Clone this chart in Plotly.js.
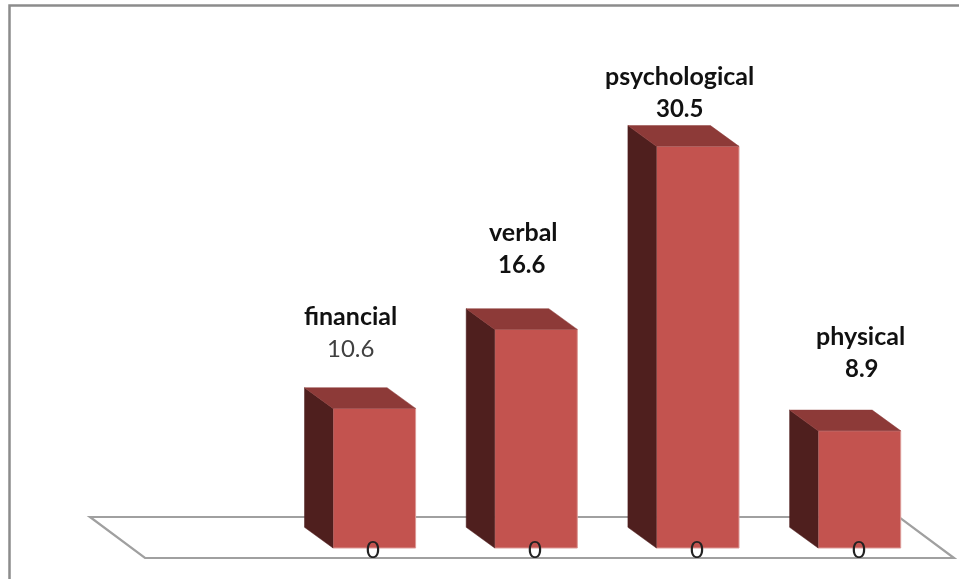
<!DOCTYPE html>
<html>
<head>
<meta charset="utf-8">
<script src="https://cdn.plot.ly/plotly-3.0.1.min.js"></script>
<style>html,body{margin:0;padding:0;background:#fff;overflow:hidden}#chart{width:959px;height:579px;filter:blur(0.45px)}text{font-variant-ligatures:none}</style>
</head>
<body>
<div id="chart"></div>
<script>
var categories = ["financial", "verbal", "psychological", "physical"];
var values = [10.6, 16.6, 30.5, 8.9];
var axisLabels = ["0", "0", "0", "0"];

// geometry of the chart frame (pixels of the 959x579 page)
var W = 959, H = 579;
var firstCenterPx = 374.3, stepPx = 161.7, baselinePx = 548, pxPerUnit = 13.17;
var barWidthPx = 82.6, depthXPx = 28.5, depthYPx = 20.7;

var xUnit = function (px) { return (px - firstCenterPx) / stepPx; };
var yUnit = function (py) { return (baselinePx - py) / pxPerUnit; };
var barW = barWidthPx / stepPx, dX = depthXPx / stepPx, dY = depthYPx / pxPerUnit;
var idx = categories.map(function (_, i) { return i; });

var sideX = [], sideY = [], topX = [], topY = [];
idx.forEach(function (i) {
  var l = i - barW / 2, r = i + barW / 2, v = values[i];
  sideX.push(l, l - dX, l - dX, l, l, null);
  sideY.push(0, dY, v + dY, v, 0, null);
  topX.push(l, l - dX, r - dX, r, l, null);
  topY.push(v, v + dY, v + dY, v, v, null);
});

var traces = [
  { type: "bar", x: idx, y: values, width: barW, hoverinfo: "skip",
    marker: { color: "#c3534f", line: { color: "#dc9a97", width: 1 } } },
  { type: "scatter", mode: "lines", x: sideX, y: sideY, fill: "toself", fillcolor: "#4f1f1e",
    line: { color: "#4f1f1e", width: 0.5 }, hoverinfo: "skip" },
  { type: "scatter", mode: "lines", x: topX, y: topY, fill: "toself", fillcolor: "#8d3a38",
    line: { color: "#8d3a38", width: 0.5 }, hoverinfo: "skip" }
];

// label placement in page pixels
var nameCenterX = [350, 523, 679, 860];
var nameCenterY = [315, 231, 75, 335];
var valueCenterX = [350, 522, 679, 862];
var valueCenterY = [347, 263, 107, 367];
var valueStyle = ["#404040", "#111111", "#111111", "#111111"];
var valueBold = [false, true, true, true];

var annotations = [];
idx.forEach(function (i) {
  annotations.push({ x: xUnit(nameCenterX[i]), y: yUnit(nameCenterY[i]), text: "<b>" + categories[i] + "</b>",
    showarrow: false, xanchor: "center", yanchor: "middle",
    font: { family: "Lato", size: 25, color: "#111111" } });
  annotations.push({ x: xUnit(valueCenterX[i]), y: yUnit(valueCenterY[i]),
    text: valueBold[i] ? "<b>" + values[i].toFixed(1) + "</b>" : values[i].toFixed(1),
    showarrow: false, xanchor: "center", yanchor: "middle",
    font: { family: "Lato", size: 24, color: valueStyle[i] } });
  annotations.push({ x: i - 0.005, y: yUnit(548), text: axisLabels[i], showarrow: false,
    xanchor: "center", yanchor: "middle", font: { family: "Lato", size: 24, color: "#222222" } });
});

var frameLine = { color: "#8c8c8c", width: 2.5 };
var floorLine = { color: "#a0a0a0", width: 2.2 };
var shapes = [
  { type: "path", xref: "paper", yref: "paper", layer: "below", line: frameLine,
    path: "M " + 9.5 / W + " 0 L " + 9.5 / W + " " + (1 - 5.5 / H) + " L 1 " + (1 - 5.5 / H) },
  { type: "path", xref: "x", yref: "y", layer: "below", line: floorLine,
    path: "M " + xUnit(90) + " " + yUnit(517) + " L " + xUnit(899) + " " + yUnit(517) +
          " L " + xUnit(954) + " " + yUnit(558) + " L " + xUnit(145) + " " + yUnit(558) + " Z" }
];

var layout = {
  width: W, height: H, showlegend: false, barmode: "overlay",
  margin: { l: 0, r: 0, t: 0, b: 0 },
  paper_bgcolor: "#ffffff", plot_bgcolor: "#ffffff",
  xaxis: { range: [xUnit(0), xUnit(W)], visible: false, fixedrange: true },
  yaxis: { range: [yUnit(H), yUnit(0)], visible: false, fixedrange: true },
  annotations: annotations, shapes: shapes
};
Plotly.newPlot("chart", traces, layout, { displayModeBar: false, staticPlot: true });
</script>
</body>
</html>
